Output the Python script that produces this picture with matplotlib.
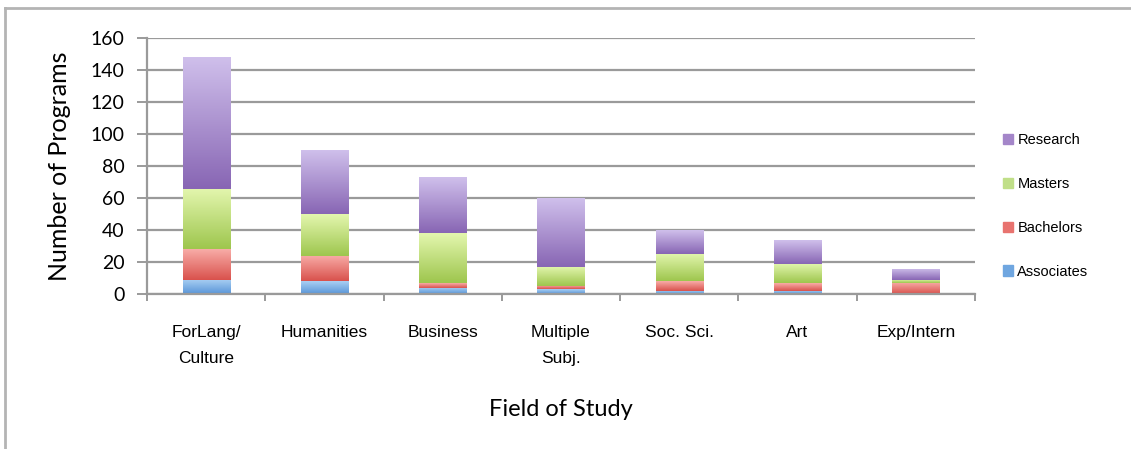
import numpy as np
import matplotlib
matplotlib.use("Agg")
import matplotlib.pyplot as plt
from matplotlib.colors import LinearSegmentedColormap
from matplotlib.lines import Line2D
from matplotlib.patches import Rectangle

fields = ["ForLang/\nCulture", "Humanities", "Business", "Multiple\nSubj.",
          "Soc. Sci.", "Art", "Exp/Intern"]
associates = [9, 8, 4, 3, 2, 2, 0]
bachelors = [19, 16, 3, 2, 6, 5, 7]
masters = [38, 26, 31, 12, 17, 12, 2]
research = [82, 40, 35, 43, 15, 15, 7]

series = [("Associates", associates, "#a9cff3", "#5a96d8", "#6fa6e0"),
          ("Bachelors", bachelors, "#f8aca7", "#d9524d", "#e8736f"),
          ("Masters", masters, "#e3f6ae", "#9ec64e", "#c0df88"),
          ("Research", research, "#cfbfeb", "#8866b4", "#a486c9")]

LABEL_FONT = ["Lato", "DejaVu Sans"]
SMALL_FONT = ["Liberation Sans Narrow", "Liberation Sans", "DejaVu Sans"]


def grad_fill(ax, patch, top, bottom):
    h = patch.get_height()
    if h <= 0:
        patch.set_visible(False)
        return
    x0, y0, w = patch.get_x(), patch.get_y(), patch.get_width()
    cmap = LinearSegmentedColormap.from_list("g", [bottom, top])
    g = np.linspace(0, 1, 64).reshape(-1, 1)
    im = ax.imshow(g, cmap=cmap, origin="lower", aspect="auto",
                   extent=(x0, x0 + w, y0, y0 + h), zorder=2,
                   interpolation="bilinear")
    im.set_clip_path(patch)
    patch.set_facecolor("none")


fig = plt.figure(figsize=(11.31, 4.49), dpi=100)
ax = fig.add_axes([0.130, 0.345, 0.732, 0.570])

x = np.arange(len(fields))
bottom = np.zeros(len(fields))
handles = []
for name, vals, top_c, bot_c, leg_c in series:
    bars = ax.bar(x, vals, width=0.4, bottom=bottom, color=leg_c,
                  linewidth=0, zorder=2)
    for p in bars:
        grad_fill(ax, p, top_c, bot_c)
    bottom += np.array(vals)
    handles.append((Rectangle((0, 0), 1, 1, color=leg_c), name))

ax.set_xlim(-0.5, len(fields) - 0.5)
ax.set_ylim(0, 160)
ax.set_yticks(range(0, 161, 20))
ax.yaxis.grid(True, color="#9a9a9a", lw=1.6, zorder=0)
ax.set_axisbelow(True)
for s in ("top", "right"):
    ax.spines[s].set_visible(False)
for s in ("left", "bottom"):
    ax.spines[s].set_color("#9a9a9a")
    ax.spines[s].set_linewidth(1.6)

ax.set_xticks(x)
ax.set_xticklabels(fields, fontsize=12.5, family=SMALL_FONT, linespacing=1.95)
ax.set_xticks(np.arange(-0.5, len(fields)), minor=True)
ax.tick_params(axis="x", which="major", length=0, pad=22)
ax.tick_params(axis="x", which="minor", length=5, color="#9a9a9a", width=1.4)
ax.tick_params(axis="y", length=7, color="#9a9a9a", width=1.4, pad=9)
for t in ax.get_yticklabels():
    t.set_fontsize(14)
    t.set_family(LABEL_FONT)

ax.set_ylabel("Number of Programs", fontsize=18, family=LABEL_FONT, labelpad=14)
ax.set_xlabel("Field of Study", fontsize=17, family=LABEL_FONT, labelpad=24)

hs, ls = zip(*handles[::-1])
fig.legend(hs, ls, loc="upper left", bbox_to_anchor=(0.875, 0.733),
           frameon=False, handlelength=0.7, handleheight=0.7,
           handletextpad=0.3, labelspacing=2.05,
           prop={"family": SMALL_FONT, "size": 10.5})

# chart border (top and left edges)
fig.add_artist(Line2D([0.004, 1.0], [0.982, 0.982], color="#b4b4b4", lw=2,
                      transform=fig.transFigure))
fig.add_artist(Line2D([0.0045, 0.0045], [0.0, 0.982], color="#b4b4b4", lw=2,
                      transform=fig.transFigure))

fig.savefig("out.png", dpi=100)
